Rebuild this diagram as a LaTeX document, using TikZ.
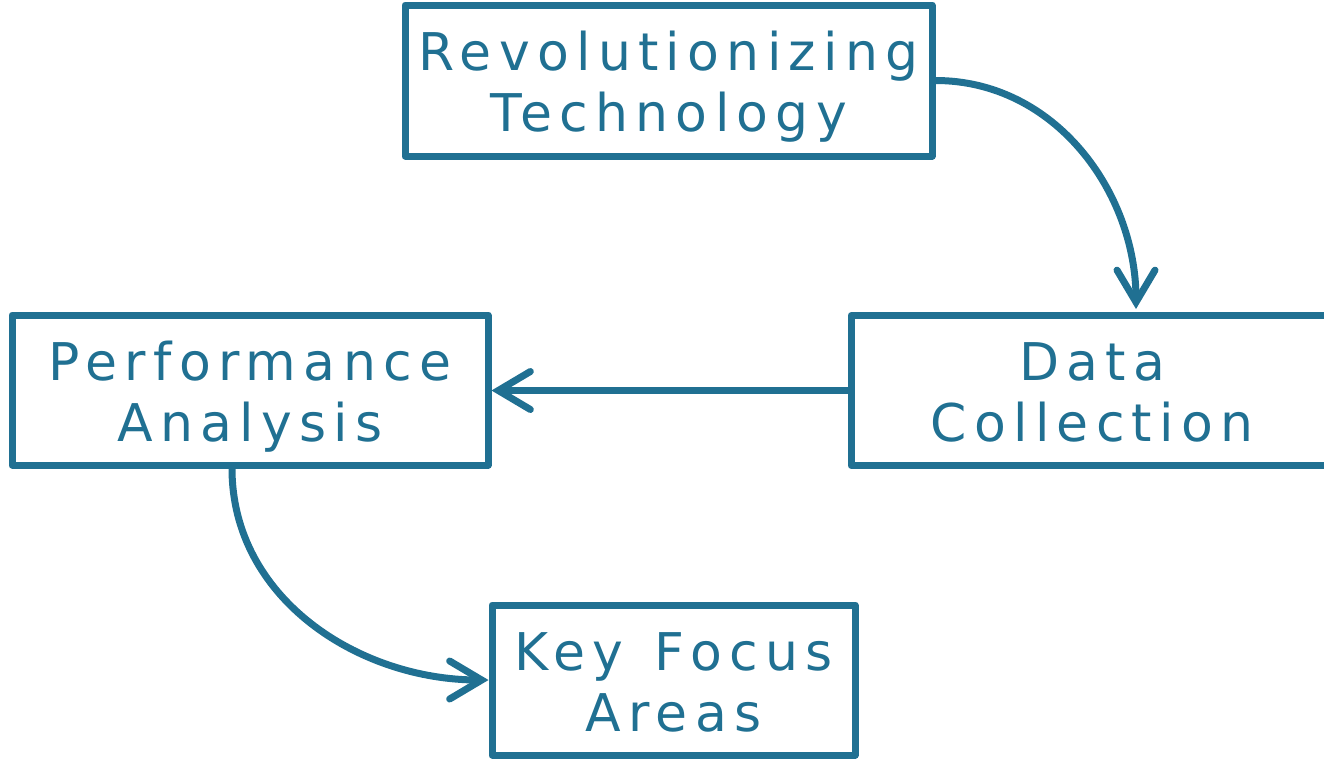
\documentclass[tikz,border=0pt]{standalone}
\usepackage{fontspec}
\setmainfont[LetterSpace=14]{DejaVu Sans}
\usetikzlibrary{arrows.meta}
\definecolor{teal}{RGB}{32,112,146}
\newcommand\mytopst{\rule{0pt}{55pt}}
\newcommand\mybotst{\rule[-14pt]{0pt}{14pt}}
\begin{document}
\begin{tikzpicture}[x=1pt,y=-1pt,
  box/.style={draw=teal, line width=7pt, line join=round, rectangle, inner sep=0pt,
    align=center, text=teal, font=\fontsize{52}{61}\selectfont, minimum height=150pt},
  conn/.style={draw=teal, line width=7pt, line cap=round,
    -{Straight Barb[length=32pt,width=38pt,line cap=round,line join=miter]}}]
\path[use as bounding box] (0,0) rectangle (1324,758);
\node[box, minimum width=527pt, minimum height=151pt] (rev) at (668.5,80.5) {\mytopst Revolutionizing\\Technology\mybotst};
\node[box, minimum width=482pt] (data) at (1092,390.5) {\mytopst Data\\Collection\mybotst};
\node[box, minimum width=476pt] (perf) at (250,390) {\mytopst Performance\\Analysis\mybotst};
\node[box, minimum width=363pt] (key) at (673.5,680) {\mytopst Key\hspace{8pt} Focus\\Areas\mybotst};
\draw[conn, shorten >=3pt] (rev.east) to[out=0,in=90] ([xshift=44pt]data.north);
\draw[conn] (data.west) -- (perf.east |- data.west);
\draw[conn] ([xshift=-18pt]perf.south) to[out=-90,in=180] (key.west);
\end{tikzpicture}
\end{document}
